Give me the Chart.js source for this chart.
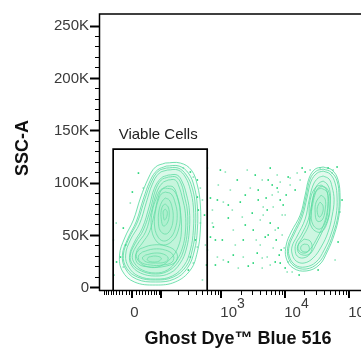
<!DOCTYPE html>
<html>
<head>
<meta charset="utf-8">
<script src="https://cdn.jsdelivr.net/npm/chart.js@4.4.1/dist/chart.umd.min.js"></script>
<style>
  html, body { margin: 0; padding: 0; background: #fff; }
  #wrap { width: 361px; height: 348px; overflow: hidden; }
</style>
</head>
<body>
<div id="wrap"><canvas id="flowChart" width="380" height="348"></canvas></div>
<script>
// Axis ticks
const yTickValues = [0, 50000, 100000, 150000, 200000, 250000];
const yTickLabels = ['0', '50K', '100K', '150K', '200K', '250K'];
const yMinorTicks = [10000, 20000, 30000, 40000, 60000, 70000, 80000, 90000, 110000, 120000, 130000, 140000,
    160000, 170000, 180000, 190000, 210000, 220000, 230000, 240000];
const xMajorTicks = [0, 100, 1000, 10000, 100000];
const xMinorTicks = [-100, -90, -80, -70, -60, -50, -40, -30, -20, -10, 10, 20, 30, 40, 50, 60, 70, 80, 90,
    200, 300, 400, 500, 600, 700, 800, 900, 2000, 3000, 4000, 5000, 6000, 7000, 8000, 9000,
    20000, 30000, 40000, 50000, 60000, 70000, 80000, 90000, 200000];
const xLabelValues = [0, 1000, 10000, 100000];
const xLabelBase = ['0', '10', '10', '10'];
const xLabelExp = ['', '3', '4', '5'];

// Gate: Viable Cells
const gateViable = [[-61, -3500], [-61, 132000], [600, 132000], [600, -3500]];
const gateName = 'Viable Cells';

// Contour rings, live population (x = Ghost Dye, y = SSC-A)
const liveOuterRings = [
    [[121,118700],[222,118700],[336,112000],[419,97700],[468,78600],[468,54700],[419,33700],[324,16500],[182,5100],[76,2200],[6,5100],[-30,15600],[-39,30800],[-23,47100],[3,64300],[24,85300],[50,104400],[76,114900]],
    [[126,115800],[212,115800],[301,109100],[375,95800],[419,77600],[419,54700],[375,34700],[290,18400],[175,7900],[76,5100],[12,7900],[-20,17500],[-30,30800],[-14,46100],[12,63300],[33,84300],[57,102500],[84,112000]],
    [[126,113900],[204,113900],[279,107200],[348,94800],[389,77600],[389,54700],[348,35600],[279,20300],[168,9800],[76,7000],[15,9800],[-17,18400],[-27,30800],[-11,46100],[15,62300],[37,83400],[60,100500],[88,111000]],
    [[132,112000],[204,112000],[269,105300],[324,92900],[362,76700],[362,54700],[324,35600],[259,21300],[162,10800],[76,7900],[18,10800],[-11,19400],[-20,30800],[-6,45200],[21,60400],[43,81400],[64,98600],[92,109100]],
    [[137,107200],[197,107200],[240,100500],[279,89100],[312,73800],[312,54700],[279,36600],[222,23200],[149,13700],[76,10800],[24,13700],[-3,21300],[-8,30800],[6,43200],[30,56600],[53,77600],[72,94800],[101,104400]],
    [[137,105300],[189,105300],[231,98600],[259,87200],[290,72900],[290,53800],[259,37500],[204,24200],[137,15600],[76,12700],[27,15600],[0,22200],[-6,30800],[9,42300],[33,54700],[57,74800],[76,92900],[101,102500]],
    [[137,102500],[182,102500],[212,95800],[240,85300],[269,70900],[269,52800],[240,37500],[189,25100],[132,16500],[76,13700],[30,16500],[6,23200],[0,30800],[15,41300],[40,52800],[60,71900],[80,90000],[106,99600]],
    [[132,96700],[168,95800],[197,87200],[222,73800],[231,52800],[204,38500],[155,28000],[97,20300],[50,19400],[18,25100],[12,33700],[30,42300],[53,52800],[72,70900],[88,86200],[106,93900]]
];
const livePeakUpper = [
    [[121,94800],[168,92900],[204,83400],[222,69000],[204,53800],[162,44200],[111,40400],[76,45200],[60,57600],[64,72900],[80,85300],[97,92900]],
    [[121,91000],[155,89100],[182,80500],[197,69000],[182,55700],[149,47100],[111,44200],[84,49000],[72,59500],[76,72900],[88,83400],[101,89100]],
    [[121,85300],[143,83400],[162,75700],[168,66200],[155,56600],[126,50900],[97,53800],[88,63300],[92,74800],[106,82400]],
    [[121,79500],[137,76700],[143,69000],[132,61400],[111,58500],[101,65200],[101,73800],[111,78600]],
    [[121,74800],[132,71900],[126,66200],[116,64300],[111,69000],[111,72900]]
];
const livePeakLower = [
    [[21,36600],[64,40400],[126,39400],[189,33700],[189,25100],[126,20300],[57,19400],[18,22200],[9,29900]],
    [[30,33700],[68,36600],[121,35600],[168,30800],[162,24200],[106,21300],[57,21300],[24,24200],[18,29900]],
    [[40,30800],[72,32700],[111,31800],[137,28000],[121,24200],[76,23200],[43,24200],[30,28000]],
    [[50,28900],[76,29900],[101,28000],[92,25100],[64,24200],[46,26100]]
];

// Contour rings, dead population
const deadOuterRings = [
    [[39086,114900],[54006,112000],[66999,102500],[71990,86200],[69449,69000],[58030,49900],[45126,33700],[33854,21300],[21221,15600],[13302,18400],[10344,28000],[10344,40400],[12380,52800],[17106,69000],[20472,88100],[23636,104400],[29322,112900]],
    [[39086,112900],[52100,110100],[64634,101500],[69449,86200],[66999,69000],[55982,50900],[43534,34700],[32659,23200],[21221,17500],[13789,20300],[11115,28900],[11115,40400],[13302,51800],[17732,68100],[21221,87200],[24501,103400],[30395,111000]],
    [[39086,111000],[50262,108200],[60153,99600],[64634,85300],[62353,69000],[52100,50900],[40516,35600],[30395,24200],[20472,19400],[14293,21300],[11522,29900],[11522,39400],[13789,50900],[18380,67100],[21997,86200],[25397,101500],[31507,109100]],
    [[39086,106300],[48488,103400],[54006,95800],[58030,83400],[54006,68100],[46777,52800],[36376,38500],[27289,28000],[19750,23200],[14816,25100],[12833,31800],[12833,39400],[15358,49000],[20472,65200],[23636,83400],[27289,97700],[32659,104400]],
    [[39086,101500],[45126,98600],[50262,91000],[50262,79500],[46777,66200],[39086,54700],[30395,41300],[24501,31800],[19053,28000],[15358,29900],[14293,35600],[14816,42300],[17732,49900],[22802,64300],[26326,80500],[29322,93900],[33854,99600]],
    [[37706,96700],[43534,93900],[46777,85300],[45126,71900],[39086,58500],[31507,47100],[25397,37500],[20472,32700],[16502,34700],[15920,40400],[18380,47100],[23636,60400],[26326,76700],[29322,89100],[32659,94800]]
];
const deadPeakUpper = [
    [[36376,97700],[46777,92900],[50262,79500],[46777,64300],[36376,52800],[26326,56600],[23636,70900],[25397,87200],[30395,95800]],
    [[36376,94800],[45126,91000],[46777,78600],[43534,64300],[35092,55700],[27289,59500],[25397,71900],[27289,86200],[31507,92900]],
    [[36376,88100],[41998,84300],[41998,73800],[37706,64300],[31507,63300],[29322,71900],[30395,81400]],
    [[35092,81400],[39086,77600],[37706,70000],[33854,67100],[31507,72900],[32659,78600]]
];
const deadPeakLower = [
    [[19750,46100],[24501,44200],[26326,37500],[23636,31800],[19053,30800],[15920,33700],[15920,40400]],
    [[19750,41300],[22802,40400],[23636,35600],[20472,33700],[17732,35600],[17732,39400]]
];

// Single events outside the contours
const eventsBright = [
    [18,109100],[0,91000],[-27,56600],[-36,28900],[324,110100],[419,102500],[419,86200],[434,73800],[389,45200],[324,28900],
    [301,16500],[675,85300],[751,57600],[675,48000],[1038,45200],[967,112000],[1779,102500],[5829,113900],[11115,105300],[18380,113900],
    [7488,94800],[8350,83400],[5228,73800],[5829,61400],[4871,48000],[3651,32700],[8350,23200],[3163,23200],[1541,30800],[808,45200],
    [868,83400],[1983,81400],[3785,92900],[3163,54700],[1288,66200],[2208,45200],[66999,43200],[64634,114900],[6258,97700],[9290,78600],
    [7230,45200],[8055,30800],[9979,18400],[2644,20300],[1288,24200],[16502,11700],[14293,92900],[3400,107200],[2374,59500],[585,21300],
    [-20,40400],[-49,24200],[77353,83400],[32659,16500],[20472,110100],[46777,113900],
    [3785,83400],[5418,49900],[7760,56600],[10344,88100],[5028,85300],[6977,24200],[8640,35600],[3050,70900],[5418,102500],[2374,88100],
    [1288,78600],[808,21300],[544,69000]
];
const eventsPale = [
    [33,94800],[-6,80500],[-50,61400],[-27,19400],[362,105300],[468,94800],[505,83400],[468,61400],[419,38500],[362,23200],
    [505,7000],[725,73800],[868,28900],[1076,81400],[607,113900],[1157,110100],[2549,112000],[8350,100500],[15358,109100],[24501,112000],
    [6258,88100],[6487,76700],[4070,64300],[6977,54700],[4070,40400],[5228,28900],[11115,24200],[2208,28900],[1076,26100],[725,61400],
    [1385,92900],[2841,94800],[4528,76700],[2130,67100],[1541,54700],[71990,71900],[55982,112000],[54006,109100],[7760,91000],[9979,69000],
    [9627,37500],[5829,21300],[4370,18400],[1845,18400],[12833,14600],[11943,104400],[4370,102500],[1487,73800],[607,35600],[249,113900],
    [-60,45200],[-57,11700],[60153,26100],[17106,102500],[35092,113900],
    [4528,69000],[6487,37500],[8960,69000],[8960,49900],[4370,28000],[3524,45200],[10723,14600],[11943,97700],[7488,107200],[1657,40400],
    [898,97700],[564,40400]
];

// Biexponential-like display transform (arcsinh)
const biexW = 81.6;
function biex(v) { return Math.asinh(v / biexW) / Math.LN10; }
function biexInv(t) { return biexW * Math.sinh(t * Math.LN10); }

class BiexScale extends Chart.LinearScale {
    buildTicks() {
        return xMajorTicks.map(v => ({ value: v }));
    }
    getPixelForValue(value) {
        if (value === null || value === undefined) return NaN;
        const t0 = biex(this.min), t1 = biex(this.max);
        return this.getPixelForDecimal((biex(value) - t0) / (t1 - t0));
    }
    getValueForPixel(pixel) {
        const t0 = biex(this.min), t1 = biex(this.max);
        return biexInv(t0 + this.getDecimalForPixel(pixel) * (t1 - t0));
    }
}
BiexScale.id = 'biex';
BiexScale.defaults = {};
Chart.register(BiexScale);

const toPoints = arr => arr.map(p => ({ x: p[0], y: p[1] }));
const closeRing = ring => toPoints(ring.concat([ring[0]]));

function ringDataset(ring) {
    return {
        data: closeRing(ring),
        showLine: true,
        borderColor: 'rgba(70, 214, 150, 0.75)',
        backgroundColor: 'rgba(130, 228, 180, 0.08)',
        borderWidth: 1,
        fill: 'shape',
        tension: 0.4,
        pointRadius: 0
    };
}

const allRings = [].concat(liveOuterRings, livePeakUpper, livePeakLower, deadOuterRings, deadPeakUpper, deadPeakLower);

const datasets = [
    {
        data: toPoints(gateViable),
        showLine: true,
        borderColor: '#000',
        borderWidth: 1.7,
        fill: false,
        tension: 0,
        pointRadius: 0
    }
].concat(allRings.map(ringDataset), [
    { data: toPoints(eventsBright), pointStyle: 'rect', pointRadius: 1.1, borderWidth: 0, backgroundColor: '#0fd06a' },
    { data: toPoints(eventsPale), pointStyle: 'rect', pointRadius: 1.1, borderWidth: 0, backgroundColor: '#86e4b6' }
]);

const FONT = '"Liberation Sans", Arial, sans-serif';

// Draw FlowJo-style axes, ticks, labels and gate name
const flowAxes = {
    id: 'flowAxes',
    afterDraw(chart) {
        const { ctx, chartArea: a, scales: { x, y } } = chart;
        ctx.save();
        ctx.strokeStyle = '#000';
        ctx.lineWidth = 1.5;
        ctx.beginPath();
        ctx.moveTo(a.left - 0.5, a.bottom);
        ctx.lineTo(a.left - 0.5, a.top);
        ctx.lineTo(a.right + 10, a.top);
        ctx.moveTo(a.left - 1, a.bottom - 0.5);
        ctx.lineTo(a.right + 10, a.bottom - 0.5);
        ctx.stroke();

        // y ticks
        yTickValues.forEach(v => {
            const py = Math.round(y.getPixelForValue(v)) + 0.5;
            ctx.lineWidth = 2;
            ctx.beginPath(); ctx.moveTo(a.left - 10, py); ctx.lineTo(a.left, py); ctx.stroke();
        });
        yMinorTicks.forEach(v => {
            const py = Math.round(y.getPixelForValue(v)) + 0.5;
            ctx.lineWidth = 1;
            ctx.beginPath(); ctx.moveTo(a.left - 5, py); ctx.lineTo(a.left, py); ctx.stroke();
        });

        // x ticks
        xMajorTicks.forEach(v => {
            const px = Math.round(x.getPixelForValue(v));
            ctx.lineWidth = 2;
            ctx.beginPath(); ctx.moveTo(px, a.bottom); ctx.lineTo(px, a.bottom + 7); ctx.stroke();
        });
        xMinorTicks.forEach(v => {
            const px = Math.round(x.getPixelForValue(v)) + 0.5;
            ctx.lineWidth = 1;
            ctx.beginPath(); ctx.moveTo(px, a.bottom); ctx.lineTo(px, a.bottom + 4); ctx.stroke();
        });

        // y labels
        ctx.fillStyle = '#3a3a3a';
        ctx.font = '15px ' + FONT;
        ctx.textAlign = 'right';
        ctx.textBaseline = 'middle';
        yTickValues.forEach((v, i) => {
            ctx.fillText(yTickLabels[i], a.left - 11, y.getPixelForValue(v) + 0.5);
        });

        // x labels with exponents
        ctx.textBaseline = 'alphabetic';
        xLabelValues.forEach((v, i) => {
            const px = x.getPixelForValue(v);
            if (xLabelExp[i] === '') {
                ctx.textAlign = 'center';
                ctx.font = '15px ' + FONT;
                ctx.fillText(xLabelBase[i], px + 2, a.bottom + 26);
            } else {
                ctx.textAlign = 'left';
                ctx.font = '15px ' + FONT;
                ctx.fillText(xLabelBase[i], px - 1, a.bottom + 26);
                const w = ctx.measureText(xLabelBase[i]).width;
                ctx.font = '14px ' + FONT;
                ctx.fillText(xLabelExp[i], px - 1 + w, a.bottom + 17);
            }
        });

        // gate name
        const gx0 = x.getPixelForValue(gateViable[0][0]);
        const gx1 = x.getPixelForValue(gateViable[2][0]);
        const gy = y.getPixelForValue(gateViable[1][1]);
        ctx.fillStyle = '#222';
        ctx.font = '15px ' + FONT;
        ctx.textAlign = 'center';
        ctx.fillText(gateName, (gx0 + gx1) / 2 - 2, gy - 10);

        // axis titles
        ctx.fillStyle = '#111';
        ctx.font = 'bold 18px ' + FONT;
        ctx.textAlign = 'center';
        ctx.fillText('Ghost Dye™ Blue 516', (a.left + a.right) / 2, 344);
        ctx.save();
        ctx.translate(23, 148);
        ctx.rotate(-Math.PI / 2);
        ctx.textBaseline = 'middle';
        ctx.fillText('SSC-A', 0, 0);
        ctx.restore();

        ctx.restore();
    }
};

new Chart(document.getElementById('flowChart'), {
    type: 'scatter',
    data: { datasets: datasets },
    options: {
        responsive: false,
        animation: false,
        events: [],
        layout: { padding: { left: 100, top: 14, right: 4, bottom: 57 } },
        scales: {
            x: { type: 'biex', min: -118, max: 262144, display: false },
            y: { type: 'linear', min: -3500, max: 261000, display: false }
        },
        plugins: { legend: { display: false }, tooltip: { enabled: false } }
    },
    plugins: [flowAxes]
});
</script>
</body>
</html>
